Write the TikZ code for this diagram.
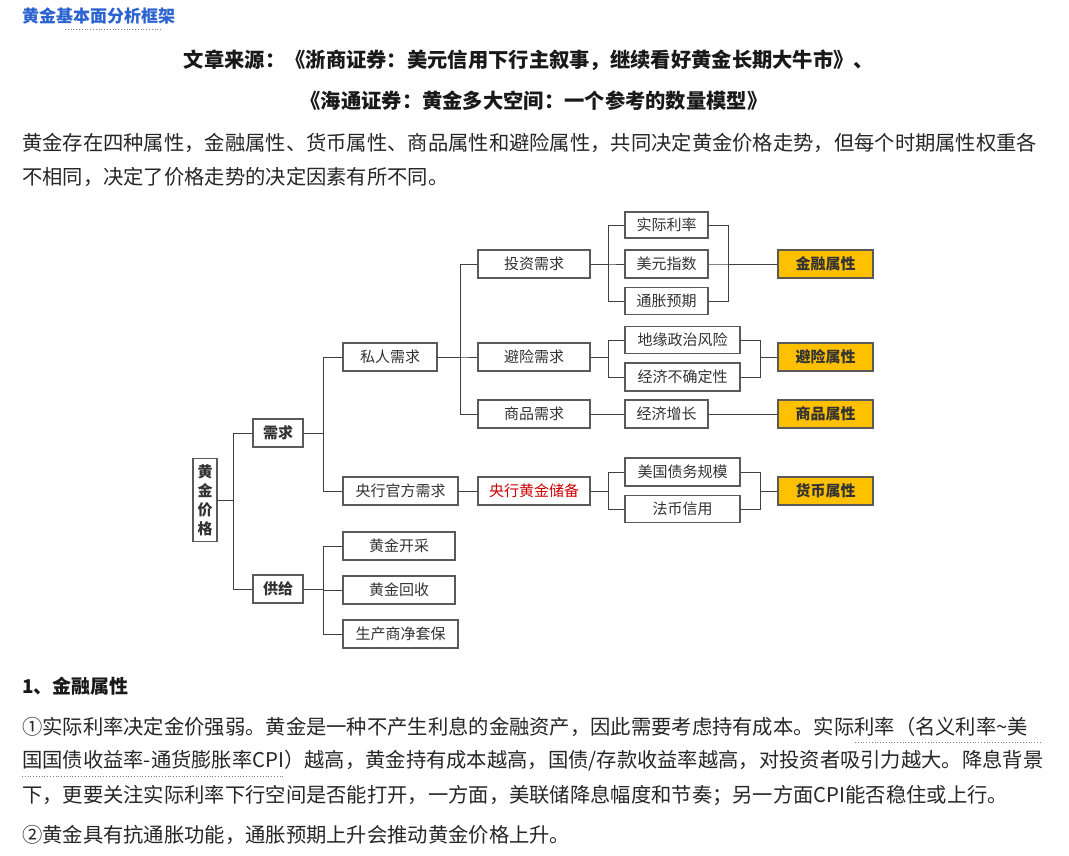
\documentclass[tikz,border=0pt]{standalone}
\usepackage{fontspec}
\setmainfont{Noto Sans CJK SC}
\usetikzlibrary{calc}
\definecolor{ttl}{HTML}{2B63D0}
\definecolor{gold}{HTML}{FFC000}
\definecolor{bord}{HTML}{5A5A5A}
\tikzset{
 bx/.style={draw=bord,line width=1.1pt,fill=white,minimum height=28pt,inner sep=0pt,font=\fontsize{15}{16}\selectfont,text=black!80},
 attr/.style={bx,fill=gold,font=\fontsize{15}{16}\selectfont\bfseries},
 ln/.style={draw=black!75,line width=1pt},
 txt/.style={anchor=west,inner sep=0pt,font=\fontsize{20.3}{22}\selectfont,text=black!85},
 hd/.style={inner sep=0pt,font=\fontsize{20.3}{22}\selectfont\bfseries,text=black!90},
 dots/.style={draw=black!50,dotted,line width=0.8pt}
}
\begin{document}
\begin{tikzpicture}[x=1pt,y=-1pt]
\useasboundingbox[fill=white] (0,0) rectangle (1069,855);
% texts
\node[hd,anchor=west,text=ttl,font=\fontsize{17}{20}\selectfont\bfseries] (t0) at (22,16) {黄金基本面分析框架};
\draw[dots] (65,29) -- (162,29);
\node[hd] (t1) at (529,60) {文章来源：《浙商证券：美元信用下行主叙事，继续看好黄金长期大牛市》、};
\node[hd] (t2) at (534,101) {《海通证券：黄金多大空间：一个参考的数量模型》};
\node[txt] (p1) at (22,143) {黄金存在四种属性，金融属性、货币属性、商品属性和避险属性，共同决定黄金价格走势，但每个时期属性权重各};
\node[txt] (p2) at (22,177) {不相同，决定了价格走势的决定因素有所不同。};
\node[hd,anchor=west,font=\fontsize{19}{20}\selectfont\bfseries] (h1) at (22,686) {1、金融属性};
\node[txt] (q1) at (22,727) {①实际利率决定金价强弱。黄金是一种不产生利息的金融资产，因此需要考虑持有成本。实际利率（名义利率\textasciitilde 美};
\node[txt] (q2) at (22,761) {国国债收益率-通货膨胀率CPI）越高，黄金持有成本越高，国债/存款收益率越高，对投资者吸引力越大。降息背景};
\node[txt] (q3) at (22,795) {下，更要关注实际利率下行空间是否能打开，一方面，美联储降息幅度和节奏；另一方面CPI能否稳住或上行。};
\node[txt] (q4) at (22,835) {②黄金具有抗通胀功能，通胀预期上升会推动黄金价格上升。};
\draw[dots] (855,742) -- (1040,742);
\draw[dots] (22,776) -- (283,776);
% diagram
\node[bx,minimum width=24pt,minimum height=83pt,align=center,font=\fontsize{15}{19}\selectfont\bfseries] (gp) at (205,500) {黄\\金\\价\\格};
\node[bx,minimum width=50pt,font=\fontsize{15}{16}\selectfont\bfseries] (xq) at (278,433) {需求};
\node[bx,minimum width=50pt,font=\fontsize{15}{16}\selectfont\bfseries] (gj) at (278,589) {供给};
\node[bx,minimum width=94pt] (sr) at (390,357) {私人需求};
\node[bx,minimum width=115pt] (yh) at (400.5,491) {央行官方需求};
\node[bx,minimum width=112pt] (kc) at (399,546) {黄金开采};
\node[bx,minimum width=112pt] (hs) at (399,590) {黄金回收};
\node[bx,minimum width=115pt] (tb) at (400.5,634) {生产商净套保};
\node[bx,minimum width=112pt] (tz) at (534,264) {投资需求};
\node[bx,minimum width=112pt] (bx1) at (534,357) {避险需求};
\node[bx,minimum width=112pt] (sp) at (534,414) {商品需求};
\node[bx,minimum width=112pt,text=red!80!black] (cb) at (534,491) {央行黄金储备};
\node[bx,minimum width=83pt,minimum height=26pt] (sj) at (666.5,225) {实际利率};
\node[bx,minimum width=83pt] (my) at (666.5,264) {美元指数};
\node[bx,minimum width=83pt,minimum height=27pt] (tp) at (666.5,301) {通胀预期};
\node[bx,minimum width=115pt,minimum height=27pt] (dy) at (682.5,340) {地缘政治风险};
\node[bx,minimum width=115pt] (jj) at (682.5,377) {经济不确定性};
\node[bx,minimum width=83pt] (zz) at (666.5,414) {经济增长};
\node[bx,minimum width=115pt] (zw) at (682.5,472) {美国债务规模};
\node[bx,minimum width=115pt,minimum height=27pt] (fb) at (682.5,509) {法币信用};
\node[attr,minimum width=95pt] (a1) at (825.5,264) {金融属性};
\node[attr,minimum width=95pt] (a2) at (825.5,357) {避险属性};
\node[attr,minimum width=95pt] (a3) at (825.5,414) {商品属性};
\node[attr,minimum width=95pt] (a4) at (825.5,491) {货币属性};
% connectors
\foreach \c in {xq,gj} \draw[ln] (gp.east) -- +(16,0) |- (\c.west);
\foreach \c in {sr,yh} \draw[ln] (xq.east) -- +(20,0) |- (\c.west);
\foreach \c in {kc,hs,tb} \draw[ln] (gj.east) -- +(20,0) |- (\c.west);
\foreach \c in {tz,bx1,sp} \draw[ln] (sr.east) -- +(23,0) |- (\c.west);
\foreach \c in {sj,my,tp} \draw[ln] (tz.east) -- +(18,0) |- (\c.west);
\foreach \c in {dy,jj} \draw[ln] (bx1.east) -- +(18,0) |- (\c.west);
\foreach \c in {zw,fb} \draw[ln] (cb.east) -- +(18,0) |- (\c.west);
\draw[ln] (yh.east) -- (cb.west);
\draw[ln] (sp.east) -- (zz.west);
\draw[ln] (zz.east) -- (a3.west);
\foreach \c in {sj,my,tp} \draw[ln] (\c.east) -- +(20,0) |- (a1.west);
\foreach \c in {dy,jj} \draw[ln] (\c.east) -- +(20,0) |- (a2.west);
\foreach \c in {zw,fb} \draw[ln] (\c.east) -- +(20,0) |- (a4.west);
\end{tikzpicture}
\end{document}
